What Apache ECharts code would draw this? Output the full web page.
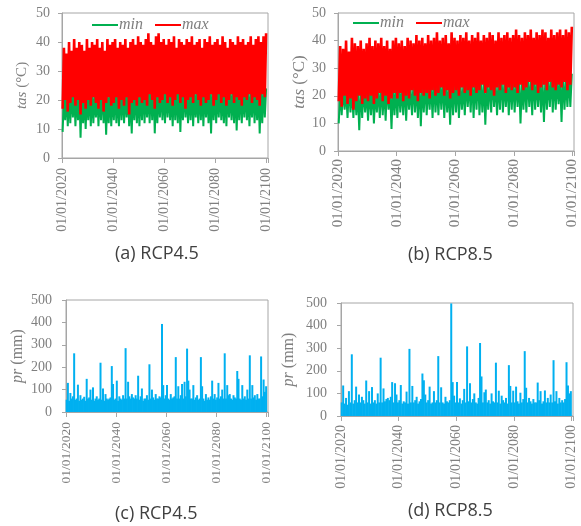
<!DOCTYPE html>
<html>
<head>
<meta charset="utf-8">
<script src="https://cdn.jsdelivr.net/npm/echarts@6/dist/echarts.min.js"></script>
<style>html,body{margin:0;padding:0;background:#fff;}#c{width:581px;height:526px;}</style>
</head>
<body>
<div id="c"></div>
<script>
// ---- data ----
const startYear = 2020;
const tickYears = [2020, 2040, 2060, 2080, 2100];
const panelTitles = ['(a) RCP4.5', '(b) RCP8.5', '(c) RCP4.5', '(d) RCP8.5'];
const seriesNames = ['min', 'max'];

// (a) RCP4.5 temperature, yearly troughs / peaks (°C), 2020..2099
const aMaxPeak = [38,36,40,37,41,38,40,39,37,41, 38,40,39,41,38,40,37,41,39,40, 41,38,40,39,41,38,40,41,39,42, 40,39,41,43,40,39,42,43,40,41, 39,41,40,42,38,41,40,39,41,40, 42,39,40,41,38,41,40,42,39,40, 41,39,42,40,38,41,40,39,42,40, 41,39,40,42,39,41,42,40,42,43];
const aMaxTrough = [17,20,16,19,21,18,20,15,19,17, 20,18,21,19,17,20,16,19,21,18, 19,21,17,20,18,21,15,19,20,18, 21,19,20,18,22,20,17,21,19,20, 22,19,21,18,20,22,19,21,17,20, 21,19,22,20,18,21,19,20,22,18, 20,22,19,21,18,20,22,19,21,20, 18,21,20,22,19,21,20,18,22,21];
const aMinPeak = [22,23,22,24,23,22,24,23,22,23, 24,23,22,24,23,25,23,22,24,23, 24,23,25,24,23,24,22,25,24,23, 24,25,23,24,25,27,24,23,25,24, 25,24,23,25,24,27,24,25,23,24, 25,24,23,25,24,25,23,24,25,24, 24,25,23,24,25,24,23,25,24,25, 24,25,23,24,25,24,25,23,25,24];
const aMinTrough = [9,13,11,12,14,11,13,7,12,10, 13,11,12,14,11,13,12,8,12,11, 13,12,11,13,12,14,11,8.5,13,12, 11,13,12,14,12,13,8.5,12,14,13, 12,14,13,11,13,12,9,13,14,12, 13,11,14,12,13,11,14,12,8.5,13, 12,14,13,12,11,14,13,12,9.5,13, 12,14,13,11,14,12,13,8.5,12,14];

// (b) RCP8.5 temperature
const bMaxPeak = [38,37,40,36,41,39,38,40,37,39, 41,38,40,39,41,38,40,37,40,41, 39,40,38,41,40,39,42,40,41,39, 42,40,41,43,40,41,42,39,43,41, 40,42,41,43,40,42,41,43,40,42, 41,43,42,40,43,41,42,43,41,42, 44,42,41,43,42,44,41,43,42,44, 43,41,44,42,43,44,42,44,43,45];
const bMaxTrough = [18,16,20,17,19,15,18,20,17,19, 18,20,17,19,21,18,20,17,19,21, 19,21,18,20,19,22,20,18,21,20, 21,19,22,20,21,23,20,22,19,21, 22,20,23,21,22,20,23,21,22,24, 21,23,22,20,23,22,24,21,23,22, 23,21,24,22,23,25,22,24,21,23, 24,22,25,23,22,24,23,25,22,24];
const bMinPeak = [22,23,22,24,22,23,22,24,23,22, 23,24,22,23,24,23,25,23,24,23, 24,23,25,24,23,25,24,26,24,25, 24,25,26,24,25,26,25,24,26,25, 26,25,24,26,25,27,26,28,25,26, 25,26,27,25,26,28,25,26,27,26, 26,27,25,26,27,26,28,26,27,26, 27,26,28,27,26,27,28,26,27,28];
const bMinTrough = [10,13,15,12,14,12,13,7.5,12,14, 11,13,10,14,12,13,11,15,8,13, 12,14,13,11,15,13,14,12,9,14, 13,15,12,14,13,15,12,14,9.5,13, 14,12,15,13,16,14,12,15,13,14, 9.5,15,14,16,13,15,14,16,13,15, 14,16,10,15,14,16,13,15,16,14, 10.5,15,16,14,15,17,10.5,15,16,16];

// (c) RCP4.5 precipitation, half-yearly (mm)
const cPr = [55,130,50,85,60,70,262,55,60,122, 50,75,55,60,68,50,148,60,65,100, 55,110,50,60,70,55,60,220,55,105, 50,80,60,55,60,65,205,125,55,60, 140,50,70,60,55,75,60,285,60,135, 70,60,80,65,60,75,60,162,55,70, 105,50,60,60,75,55,213,60,100,65, 55,80,60,60,70,65,393,120,60,75, 120,60,55,80,60,65,70,245,60,115, 60,75,125,60,135,70,283,140,100,60, 60,120,55,65,75,55,60,245,115,60, 50,80,55,65,55,70,140,60,80,55, 65,130,60,70,100,60,262,60,120,75, 80,60,55,75,65,60,183,148,60,55, 120,60,70,55,100,60,253,60,120,65, 75,55,80,60,60,248,70,145,90,115];
// (d) RCP8.5 precipitation
const dPr = [60,135,55,80,50,110,60,273,55,70, 130,60,95,60,85,70,55,157,60,110, 55,128,60,70,55,100,60,258,60,122, 65,75,80,70,85,150,60,145,95,60, 70,137,55,65,60,108,55,297,60,133, 60,70,85,55,65,75,188,158,95,60, 70,130,55,60,110,60,70,265,60,127, 60,55,85,65,60,70,498,150,90,60, 150,60,78,55,70,120,60,308,65,145, 60,75,100,60,55,80,323,175,60,105, 117,60,70,55,100,65,60,236,60,112, 55,90,70,60,80,55,225,133,60,112, 60,130,65,55,103,60,75,287,125,60, 80,65,55,75,60,60,148,70,110,55, 65,113,60,80,60,95,60,247,65,110, 55,80,60,70,60,75,238,135,100,110];

// ---- helpers (build library data from the arrays) ----
function zigzag(lows, highs) {
  const out = [];
  for (let i = 0; i < lows.length; i++) {
    out.push([startYear + i + 0.25, lows[i]]);
    out.push([startYear + i + 0.75, highs[i]]);
  }
  return out;
}
function halfYear(vals) {
  return vals.map((v, i) => [startYear + i * 0.5 + 0.25, v]);
}

const GRAY = '#7f7f7f';
const BORDER = '#a6a6a6';
const SERIF = '"Liberation Serif", "DejaVu Serif", serif';
const GREEN = '#00b050', RED = '#ff0000', BLUE = '#00b0f0';

const grids = [
  {left: 62, top: 13, width: 206, height: 145},
  {left: 338, top: 13, width: 236, height: 138},
  {left: 66, top: 300, width: 202, height: 112},
  {left: 341, top: 303, width: 232, height: 113}
];
grids.forEach(g => { g.show = true; g.borderColor = BORDER; g.borderWidth = 1; g.backgroundColor = '#fff'; });

function xAxis(idx, fontSize, margin) {
  return {
    type: 'value', gridIndex: idx, min: startYear, max: 2100.5, interval: 20,
    axisLine: {lineStyle: {color: BORDER}},
    axisTick: {show: true, length: 5, lineStyle: {color: BORDER}},
    splitLine: {show: false},
    axisLabel: {
      rotate: 90, margin: margin, color: GRAY, fontFamily: SERIF, fontSize: fontSize,
      formatter: v => tickYears.indexOf(v) >= 0 ? '01/01/' + v : '',
      showMaxLabel: true
    }
  };
}
function yAxis(idx, max, interval, name, it, fontSize, nameSize, nameGap, margin) {
  return {
    type: 'value', gridIndex: idx, min: 0, max: max, interval: interval,
    axisLine: {show: true, lineStyle: {color: BORDER}},
    axisTick: {show: true, length: 4, lineStyle: {color: BORDER}},
    splitLine: {show: false},
    axisLabel: {color: GRAY, fontFamily: SERIF, fontSize: fontSize, margin: margin},
    name: '{i|' + it + '}' + name,
    nameLocation: 'middle', nameGap: nameGap,
    nameTextStyle: {
      color: GRAY, fontFamily: SERIF, fontSize: nameSize,
      rich: {i: {fontStyle: 'italic', color: GRAY, fontFamily: SERIF, fontSize: nameSize}}
    }
  };
}

function legend(left, top) {
  return {
    left: left, top: top, icon: 'rect', itemWidth: 26, itemHeight: 2, itemGap: 12,
    padding: 0, data: seriesNames,
    textStyle: {color: GRAY, fontFamily: SERIF, fontStyle: 'italic', fontSize: 16, padding: [0, 0, 0, -4]}
  };
}

function tempSeries(idx, minLow, minHigh, maxLow, maxHigh) {
  return [
    {name: seriesNames[0], type: 'line', xAxisIndex: idx, yAxisIndex: idx, data: zigzag(minLow, minHigh),
     showSymbol: false, symbol: 'none', color: GREEN, lineStyle: {width: 2, color: GREEN}, animation: false},
    {name: seriesNames[1], type: 'line', xAxisIndex: idx, yAxisIndex: idx, data: zigzag(maxLow, maxHigh),
     showSymbol: false, symbol: 'none', color: RED, lineStyle: {width: 2.6, color: RED}, animation: false}
  ];
}
function prSeries(idx, vals) {
  return {type: 'bar', xAxisIndex: idx, yAxisIndex: idx, data: halfYear(vals), barWidth: 2,
          itemStyle: {color: BLUE}, animation: false, large: false};
}

const titleTops = [245, 246, 505, 502];
const titleLefts = [115, 408, 115, 408];

const option = {
  backgroundColor: '#fff',
  animation: false,
  grid: grids,
  title: panelTitles.map((t, i) => ({
    text: t, left: titleLefts[i], top: titleTops[i], padding: 0,
    textStyle: {fontFamily: '"Open Sans", sans-serif', fontSize: 18, fontWeight: 'normal', color: '#404040'}
  })),
  legend: [legend(92, 17), legend(353, 15)],
  xAxis: [xAxis(0, 14, 10), xAxis(1, 15, 8), xAxis(2, 13.5, 10), xAxis(3, 14, 9)],
  yAxis: [
    yAxis(0, 50, 10, ' (°C)', 'tas', 14, 15, 32, 12),
    yAxis(1, 50, 10, ' (°C)', 'tas', 14, 17, 30, 12),
    yAxis(2, 500, 100, ' (mm)', 'pr', 14, 16, 40, 14),
    yAxis(3, 500, 100, ' (mm)', 'pr', 14, 16, 44, 14)
  ],
  series: [].concat(
    tempSeries(0, aMinTrough, aMinPeak, aMaxTrough, aMaxPeak),
    tempSeries(1, bMinTrough, bMinPeak, bMaxTrough, bMaxPeak),
    [prSeries(2, cPr), prSeries(3, dPr)]
  )
};

const chart = echarts.init(document.getElementById('c'), null, {renderer: 'canvas'});
chart.setOption(option);
</script>
</body>
</html>
